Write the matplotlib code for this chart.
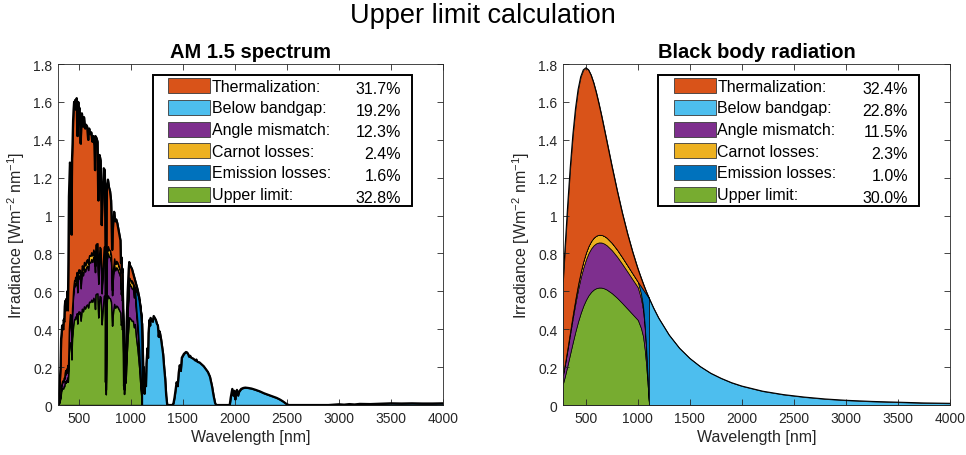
import numpy as np
import matplotlib
matplotlib.use("Agg")
import matplotlib.pyplot as plt
from matplotlib.patches import Rectangle
from matplotlib.ticker import FuncFormatter, MultipleLocator

plt.rcParams["font.family"] = ["Liberation Sans", "DejaVu Sans"]
plt.rcParams["mathtext.fontset"] = "custom"
plt.rcParams["mathtext.rm"] = "Liberation Sans"
plt.rcParams["mathtext.it"] = "Liberation Sans:italic"
plt.rcParams["mathtext.bf"] = "Liberation Sans:bold"

# silicon bandgap (1.12 eV) expressed as a wavelength in nm
GAP_WL = 1107

# AM 1.5 global spectrum, W m^-2 nm^-1
am15_wl = [
    300, 305, 310, 315, 320, 325, 330, 335, 340, 350, 355, 360, 365, 370, 375,
    380, 385, 390, 395, 400, 405, 410, 415, 420, 425, 430, 435, 440, 445, 450,
    455, 460, 465, 470, 475, 480, 486, 490, 495, 500, 505, 510, 518, 525, 530,
    535, 540, 545, 550, 555, 560, 570, 580, 590, 595, 600, 610, 620, 630, 640,
    650, 656, 660, 670, 680, 687, 692, 700, 710, 720, 725, 730, 740, 750, 757,
    760, 763, 767, 770, 780, 790, 800, 810, 815, 820, 825, 830, 840, 850, 860,
    870, 880, 890, 900, 905, 910, 915, 920, 925, 930, 935, 940, 945, 950, 955,
    960, 965, 970, 975, 980, 985, 990, 1000, 1010, 1020, 1030, 1040, 1050,
    1065, 1080, 1090, 1100, 1107, 1115, 1120, 1125, 1130, 1135, 1140, 1145,
    1150, 1160, 1165, 1170, 1180, 1185, 1190, 1200, 1210, 1220, 1230, 1240,
    1250, 1260, 1268, 1275, 1280, 1290, 1300, 1310, 1320, 1330, 1340, 1350,
    1400, 1410, 1420, 1430, 1440, 1450, 1460, 1470, 1480, 1490, 1500, 1510,
    1520, 1530, 1540, 1550, 1560, 1570, 1580, 1600, 1620, 1630, 1640, 1660,
    1680, 1690, 1700, 1720, 1740, 1760, 1780, 1795, 1810, 1820, 1950, 1960,
    1975, 1985, 1995, 2003, 2010, 2020, 2030, 2040, 2060, 2080, 2100, 2130,
    2160, 2200, 2240, 2280, 2320, 2360, 2400, 2430, 2460, 2480, 2500, 2520,
    2900, 2950, 3000, 3050, 3100, 3150, 3200, 3300, 3400, 3500, 3600, 3700,
    3800, 3900, 4000,
]
am15_irr = [
    0.0, 0.01, 0.05, 0.10, 0.15, 0.20, 0.35, 0.38, 0.42, 0.40, 0.45, 0.44,
    0.52, 0.55, 0.50, 0.56, 0.52, 0.60, 0.50, 0.75, 1.10, 1.20, 1.28, 1.26,
    1.18, 0.90, 1.30, 1.38, 1.50, 1.56, 1.60, 1.58, 1.61, 1.56, 1.60, 1.62,
    1.42, 1.56, 1.60, 1.55, 1.57, 1.54, 1.38, 1.50, 1.54, 1.50, 1.47, 1.50,
    1.52, 1.49, 1.46, 1.48, 1.47, 1.40, 1.45, 1.46, 1.43, 1.44, 1.39, 1.42,
    1.37, 1.24, 1.42, 1.41, 1.39, 1.08, 1.22, 1.32, 1.29, 0.95, 1.05, 1.12,
    1.25, 1.24, 0.80, 0.12, 0.55, 1.00, 1.16, 1.19, 1.15, 1.13, 1.08, 0.98,
    0.82, 0.90, 0.96, 1.02, 0.97, 0.98, 0.96, 0.93, 0.90, 0.87, 0.75, 0.78,
    0.70, 0.72, 0.55, 0.35, 0.10, 0.22, 0.30, 0.20, 0.32, 0.44, 0.52, 0.60,
    0.66, 0.72, 0.755, 0.74, 0.73, 0.72, 0.70, 0.68, 0.66, 0.64, 0.61, 0.57,
    0.53, 0.48, 0.43, 0.30, 0.16, 0.20, 0.06, 0.12, 0.15, 0.10, 0.22, 0.30,
    0.25, 0.38, 0.45, 0.42, 0.46, 0.45, 0.44, 0.47, 0.46, 0.45, 0.43, 0.42,
    0.36, 0.39, 0.38, 0.35, 0.31, 0.27, 0.20, 0.14, 0.05, 0.0, 0.0, 0.01,
    0.04, 0.08, 0.12, 0.10, 0.17, 0.21, 0.18, 0.25, 0.26, 0.27, 0.275, 0.28,
    0.278, 0.27, 0.255, 0.26, 0.25, 0.245, 0.235, 0.24, 0.228, 0.225, 0.215,
    0.21, 0.205, 0.19, 0.175, 0.15, 0.10, 0.05, 0.01, 0.0, 0.0, 0.04, 0.085,
    0.05, 0.075, 0.03, 0.06, 0.08, 0.05, 0.07, 0.085, 0.09, 0.092, 0.09,
    0.087, 0.08, 0.072, 0.062, 0.054, 0.046, 0.038, 0.03, 0.02, 0.012, 0.004,
    0.0, 0.0, 0.002, 0.004, 0.002, 0.005, 0.003, 0.006, 0.005, 0.007, 0.009,
    0.008, 0.009, 0.008, 0.008, 0.009,
]

# 5800 K black body, scaled to the same peak height as the sun
bb_wl = [
    280, 300, 325, 350, 375, 400, 425, 450, 475, 500, 525, 550, 575, 600, 625,
    650, 675, 700, 750, 800, 850, 900, 950, 990, 1000, 1010, 1030, 1050, 1065,
    1080, 1090, 1100, 1107, 1150, 1200, 1300, 1400, 1500, 1600, 1700, 1800,
    1900, 2000, 2200, 2400, 2600, 2800, 3000, 3250, 3500, 3750, 4000,
]
bb_irr = [
    0.651, 0.832, 1.054, 1.256, 1.427, 1.564, 1.665, 1.732, 1.769, 1.780,
    1.770, 1.742, 1.701, 1.650, 1.592, 1.530, 1.464, 1.397, 1.263, 1.135,
    1.015, 0.906, 0.808, 0.737, 0.720, 0.704, 0.673, 0.643, 0.621, 0.600,
    0.587, 0.574, 0.565, 0.513, 0.459, 0.370, 0.300, 0.246, 0.203, 0.168,
    0.141, 0.118, 0.100, 0.073, 0.055, 0.042, 0.032, 0.025, 0.019, 0.015,
    0.011, 0.009,
]

# split of the bandgap energy of each absorbed photon
UPPER_SHARE = 0.69
ANGLE_SHARE = 0.265
# part of that bandgap energy not lost to emission close to the gap
EDGE_KEEP = {990: 1.0, 1010: 0.98, 1030: 0.94, 1050: 0.86, 1065: 0.72,
             1080: 0.52, 1090: 0.33, 1100: 0.15, 1107: 0.0}

layer_names = ["Thermalization:", "Below bandgap:", "Angle mismatch:",
               "Carnot losses:", "Emission losses:", "Upper limit:"]
layer_colors = ["#D95319", "#4DBEEE", "#7E2F8E", "#EDB120", "#0072BD", "#77AC30"]
am15_pct = [31.7, 19.2, 12.3, 2.4, 1.6, 32.8]
bb_pct = [32.4, 22.8, 11.5, 2.3, 1.0, 30.0]

AXIS_GREY = "#262626"


def draw_spectrum(ax, wl, irr, edge_lw, outline_lw):
    wl = np.asarray(wl, dtype=float)
    irr = np.asarray(irr, dtype=float)
    thermal, below, angle, carnot, emission, upper = layer_colors

    above = wl <= GAP_WL
    w = wl[above]
    s = irr[above]
    useful = s * w / GAP_WL
    keep = np.array([EDGE_KEEP.get(int(x), 1.0) for x in w])
    eg_part = useful * keep
    upper_top = eg_part * UPPER_SHARE
    angle_top = upper_top + eg_part * ANGLE_SHARE

    kw = dict(edgecolor="black", linewidth=edge_lw)
    ax.fill_between(w, 0, upper_top, facecolor=upper, **kw)
    ax.fill_between(w, upper_top, angle_top, facecolor=angle, **kw)
    ax.fill_between(w, angle_top, eg_part, facecolor=carnot, **kw)
    ax.fill_between(w, eg_part, useful, facecolor=emission, **kw)
    ax.fill_between(w, useful, s, facecolor=thermal, **kw)

    ir = wl >= GAP_WL
    ax.fill_between(wl[ir], 0, irr[ir], facecolor=below, **kw)
    ax.plot(wl, irr, color="black", linewidth=outline_lw, solid_joinstyle="round")


def draw_legend(ax, pcts):
    ax.add_patch(Rectangle((0.246, 0.583), 0.673, 0.385, transform=ax.transAxes,
                           facecolor="white", edgecolor="black", linewidth=1.4,
                           zorder=5))
    for i, (name, color, pct) in enumerate(zip(layer_names, layer_colors, pcts)):
        yc = 0.936 - i * 0.0636
        ax.add_patch(Rectangle((0.2864, yc - 0.022), 0.1084, 0.044,
                               transform=ax.transAxes, facecolor=color,
                               edgecolor="#3a3a3a", linewidth=0.6, zorder=6))
        ax.text(0.399, yc - 0.001, name, transform=ax.transAxes, ha="left",
                va="center", fontsize=11.5, zorder=6)
        ax.text(0.8917, yc - 0.008, f"{pct:.1f}%", transform=ax.transAxes,
                ha="right", va="center", fontsize=11.5, zorder=6)


def style_axes(ax, title, xmin):
    ax.set_xlim(xmin, 4000)
    ax.set_ylim(0, 1.8)
    ax.xaxis.set_major_locator(MultipleLocator(500))
    ax.yaxis.set_major_locator(MultipleLocator(0.2))
    ax.yaxis.set_major_formatter(FuncFormatter(lambda v, _: f"{v:g}"))
    ax.tick_params(direction="in", top=True, right=True, length=4, width=0.6,
                   colors=AXIS_GREY, labelsize=10, pad=4)
    for spine in ax.spines.values():
        spine.set_color(AXIS_GREY)
        spine.set_linewidth(0.6)
        spine.set_zorder(7)
    ax.set_xlabel("Wavelength [nm]", fontsize=11.5, color=AXIS_GREY, labelpad=3)
    ax.set_ylabel("Irradiance [Wm$^{-2}$ nm$^{-1}$]", fontsize=11.5,
                  color=AXIS_GREY, labelpad=4)
    ax.set_title(title, fontsize=14.5, fontweight="bold", pad=5)


fig = plt.figure(figsize=(9.66, 4.56), dpi=100)
ax1 = fig.add_axes([0.0600, 0.1096, 0.3986, 0.7478])
ax2 = fig.add_axes([0.5828, 0.1096, 0.4006, 0.7478])

draw_spectrum(ax1, am15_wl, am15_irr, edge_lw=1.0, outline_lw=1.6)
style_axes(ax1, "AM 1.5 spectrum", 300)
draw_legend(ax1, am15_pct)

draw_spectrum(ax2, bb_wl, bb_irr, edge_lw=0.5, outline_lw=0.8)
style_axes(ax2, "Black body radiation", 280)
draw_legend(ax2, bb_pct)

fig.text(0.5, 1 - 16 / 456, "Upper limit calculation", ha="center", va="center",
         fontsize=19.5)

fig.savefig("out.png", dpi=100)
